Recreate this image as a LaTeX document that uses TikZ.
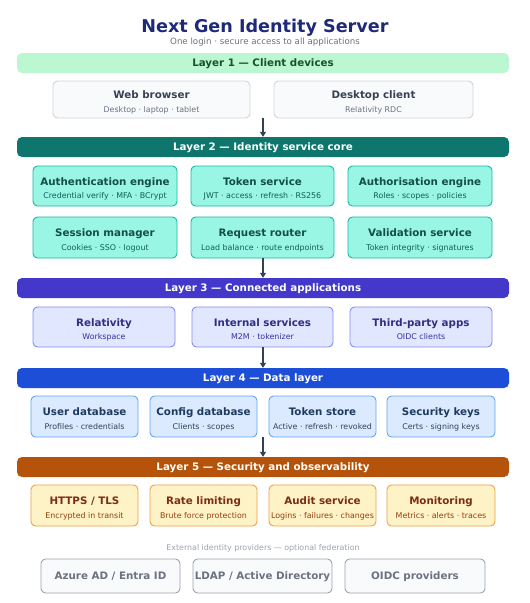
\documentclass[tikz,border=0pt]{standalone}
\usepackage{fontspec}
\setmainfont{DejaVu Sans}
\usetikzlibrary{arrows.meta}
\definecolor{l1fill}{HTML}{BBF7D0}\definecolor{l1text}{HTML}{14532D}
\definecolor{l2bar}{HTML}{0F766E}\definecolor{l2fill}{HTML}{99F6E4}\definecolor{l2line}{HTML}{14B8A6}
\definecolor{l2title}{HTML}{134E4A}\definecolor{l2sub}{HTML}{115E59}
\definecolor{l3bar}{HTML}{4338CA}\definecolor{l3fill}{HTML}{E0E7FF}\definecolor{l3line}{HTML}{818CF8}
\definecolor{l3title}{HTML}{312E81}\definecolor{l3sub}{HTML}{3730A3}
\definecolor{l4bar}{HTML}{1D4ED8}\definecolor{l4fill}{HTML}{DBEAFE}\definecolor{l4line}{HTML}{60A5FA}
\definecolor{l4title}{HTML}{1E3A5F}\definecolor{l4sub}{HTML}{334155}
\definecolor{l5bar}{HTML}{B45309}\definecolor{l5fill}{HTML}{FEF3C7}\definecolor{l5line}{HTML}{F0A040}
\definecolor{l5title}{HTML}{7C2D12}\definecolor{l5sub}{HTML}{92400E}
\definecolor{cfill}{HTML}{F8FAFC}\definecolor{cline}{HTML}{D1D5DB}\definecolor{ctitle}{HTML}{374151}\definecolor{csub}{HTML}{6B7280}
\definecolor{xline}{HTML}{9CA3AF}\definecolor{xtext}{HTML}{6B7280}
\definecolor{headc}{HTML}{1E2A78}\definecolor{subc}{HTML}{6B7280}
\definecolor{arrc}{HTML}{334155}
\tikzset{
  bar/.style={rounded corners=5pt, inner sep=0pt},
  barlabel/.style={anchor=base, font=\fontsize{10.3}{12}\selectfont\bfseries},
  boxs/.style={rounded corners=4.5pt, line width=0.9pt, inner sep=0pt},
  btitle/.style={anchor=base, font=\fontsize{10.3}{12}\selectfont\bfseries, inner sep=0pt},
  bsub/.style={anchor=base, font=\fontsize{7.9}{9}\selectfont, inner sep=0pt},
  flow/.style={draw=arrc, line width=1.1pt, -{Triangle[length=5pt,width=6pt]}},
}
% \mkbox{name}{prefix}{x1}{y1}{x2}{y2}{title}{sub}
\newcommand\mkbox[8]{%
  \node[boxs,fill=#2fill,draw=#2line,minimum width=#5-#3,minimum height=#6-#4] (#1) at ({(#3+#5)/2},{(#4+#6)/2}) {};
  \node[btitle,text=#2title] (#1-t) at ([yshift=0.6pt]#1.center) {#7};
  \node[bsub,text=#2sub] (#1-s) at ([yshift=-12.5pt]#1.center) {#8};
}
\newcommand\mkbar[6]{%
  \node[bar,fill=#2,minimum width=492pt,minimum height=#4-#3] (#1) at (263,{(#3+#4)/2}) {};
  \node[barlabel,text=#5] (#1-t) at ([yshift=-3.7pt]#1.center) {#6};
}
\begin{document}
\begin{tikzpicture}[x=1pt,y=-1pt]
\useasboundingbox[fill=white] (0,0) rectangle (530,603);
\node[font=\fontsize{17.6}{20}\selectfont\bfseries, text=headc, anchor=base] (title) at (265,32.5) {Next Gen Identity Server};
\node[font=\fontsize{8.65}{10}\selectfont, text=subc, anchor=base] (subtitle) at (265,44.5) {One login · secure access to all applications};

\mkbar{L1}{l1fill}{53}{73}{l1text}{Layer 1 — Client devices}
\mkbox{web}{c}{53}{81}{250}{118}{Web browser}{Desktop · laptop · tablet}
\mkbox{desk}{c}{274}{81}{473}{118}{Desktop client}{Relativity RDC}

\mkbar{L2}{l2bar}{137}{157}{white}{Layer 2 — Identity service core}
\mkbox{authn}{l2}{33}{166}{177}{206}{Authentication engine}{Credential verify · MFA · BCrypt}
\mkbox{token}{l2}{191}{166}{334}{206}{Token service}{JWT · access · refresh · RS256}
\mkbox{authz}{l2}{348}{166}{492}{206}{Authorisation engine}{Roles · scopes · policies}
\mkbox{sess}{l2}{33}{217}{177}{258}{Session manager}{Cookies · SSO · logout}
\mkbox{router}{l2}{191}{217}{334}{258}{Request router}{Load balance · route endpoints}
\mkbox{valid}{l2}{348}{217}{492}{258}{Validation service}{Token integrity · signatures}

\mkbar{L3}{l3bar}{278}{298}{white}{Layer 3 — Connected applications}
\mkbox{rel}{l3}{33}{307}{175}{347}{Relativity}{Workspace}
\mkbox{internal}{l3}{192}{307}{333}{347}{Internal services}{M2M · tokenizer}
\mkbox{third}{l3}{350}{307}{492}{347}{Third-party apps}{OIDC clients}

\mkbar{L4}{l4bar}{368}{388}{white}{Layer 4 — Data layer}
\mkbox{userdb}{l4}{31}{396}{138}{437}{User database}{Profiles · credentials}
\mkbox{confdb}{l4}{150}{396}{257}{437}{Config database}{Clients · scopes}
\mkbox{tstore}{l4}{269}{396}{376}{437}{Token store}{Active · refresh · revoked}
\mkbox{keys}{l4}{387}{396}{495}{437}{Security keys}{Certs · signing keys}

\mkbar{L5}{l5bar}{457}{477}{white}{Layer 5 — Security and observability}
\mkbox{tls}{l5}{31}{485}{138}{526}{HTTPS / TLS}{Encrypted in transit}
\mkbox{rate}{l5}{150}{485}{257}{526}{Rate limiting}{Brute force protection}
\mkbox{audit}{l5}{269}{485}{376}{526}{Audit service}{Logins · failures · changes}
\mkbox{mon}{l5}{387}{485}{495}{526}{Monitoring}{Metrics · alerts · traces}

\node[font=\fontsize{7.9}{9}\selectfont, text=xline, anchor=base] (extcap) at (263,550.8) {External identity providers — optional federation};
\node[boxs,fill=cfill,draw=xline,minimum width=139pt,minimum height=34pt] (azure) at (110.5,576) {};
\node[btitle,text=xtext] (azure-t) at ([yshift=-3.8pt]azure.center) {Azure AD / Entra ID};
\node[boxs,fill=cfill,draw=xline,minimum width=139pt,minimum height=34pt] (ldap) at (262.5,576) {};
\node[btitle,text=xtext] (ldap-t) at ([yshift=-3.8pt]ldap.center) {LDAP / Active Directory};
\node[boxs,fill=cfill,draw=xline,minimum width=140pt,minimum height=34pt] (oidc) at (415,576) {};
\node[btitle,text=xtext] (oidc-t) at ([yshift=-3.8pt]oidc.center) {OIDC providers};

\coordinate (c1) at (263,118);
\coordinate (c4) at (263,437);
\draw[flow] (c1) -- (c1 |- L2.north);
\draw[flow] (router.south -| c1) -- (c1 |- L3.north);
\draw[flow] (internal.south -| c1) -- (c1 |- L4.north);
\draw[flow] (c4) -- (c4 |- L5.north);
\end{tikzpicture}
\end{document}
